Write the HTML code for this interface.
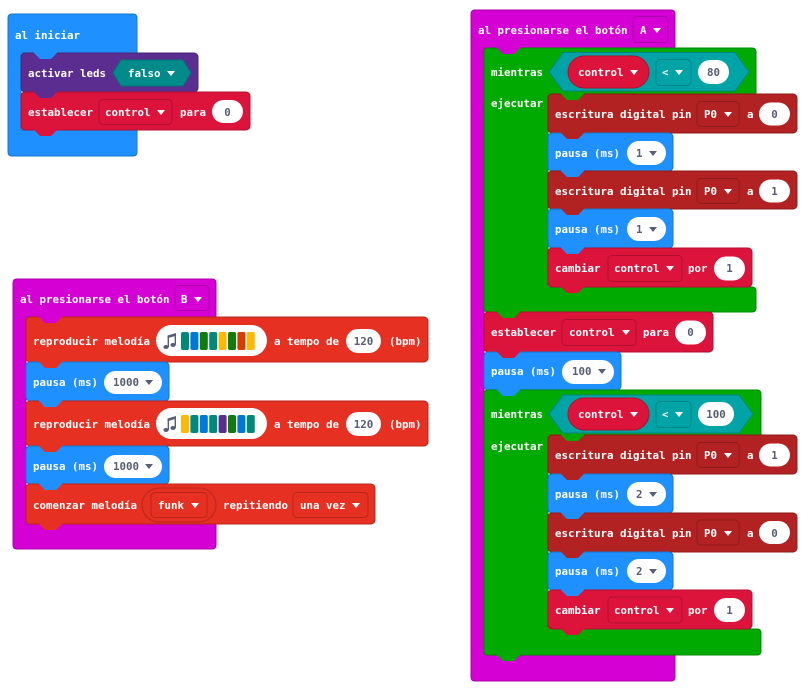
<!DOCTYPE html>
<html><head><meta charset="utf-8">
<style>
html,body{margin:0;padding:0;background:#fff;}
svg{display:block}
text{font-family:"DejaVu Sans Mono","Liberation Mono",monospace;font-size:10.8px;font-weight:bold;fill:#fff;}
text.d{fill:#575E75}
</style></head>
<body>
<svg width="812" height="690" viewBox="0 0 812 690" xmlns="http://www.w3.org/2000/svg">
<!-- ===== al iniciar ===== -->
<path d="M12,14 H133 Q137,14 137,18 V53 H21 V130 H137 V152 Q137,156 133,156 H12 Q8,156 8,152 V18 Q8,14 12,14 Z" fill="#1E90FF" stroke="#1874CD"/>
<rect x="21" y="53" width="177" height="39" rx="4" fill="#5C2D91" stroke="#4A2475"/>
<rect x="21" y="92" width="229" height="38" rx="4" fill="#DC143C" stroke="#B0102F"/>

<!-- ===== button B ===== -->
<path d="M17,279 H212 Q216,279 216,283 V317 H26 V524 H216 V545 Q216,549 212,549 H17 Q13,549 13,545 V283 Q13,279 17,279 Z" fill="#D400D4" stroke="#AA00AA"/>
<rect x="26" y="317" width="402" height="45" rx="4" fill="#E63022" stroke="#B8261B"/>
<rect x="26" y="362" width="143" height="39" rx="4" fill="#1E90FF" stroke="#1874CD"/>
<rect x="26" y="401" width="402" height="45" rx="4" fill="#E63022" stroke="#B8261B"/>
<rect x="26" y="446" width="143" height="38" rx="4" fill="#1E90FF" stroke="#1874CD"/>
<rect x="26" y="484" width="349" height="40" rx="4" fill="#E63022" stroke="#B8261B"/>

<!-- ===== button A ===== -->
<path d="M475,10 H671 Q675,10 675,14 V48 H484 V655 H675 V677 Q675,681 671,681 H475 Q471,681 471,677 V14 Q471,10 475,10 Z" fill="#D400D4" stroke="#AA00AA"/>
<path d="M488,48 H752 Q756,48 756,52 V94 H548 V287 H752 Q756,287 756,291 V308 Q756,312 752,312 H488 Q484,312 484,308 V52 Q484,48 488,48 Z" fill="#00AA00" stroke="#008800"/>
<rect x="548" y="94" width="249" height="39" rx="4" fill="#B22222" stroke="#8E1B1B"/>
<rect x="548" y="133" width="125" height="38" rx="4" fill="#1E90FF" stroke="#1874CD"/>
<rect x="548" y="171" width="249" height="38" rx="4" fill="#B22222" stroke="#8E1B1B"/>
<rect x="548" y="209" width="125" height="39" rx="4" fill="#1E90FF" stroke="#1874CD"/>
<rect x="548" y="248" width="204" height="39" rx="4" fill="#DC143C" stroke="#B0102F"/>
<rect x="484" y="312" width="229" height="40" rx="4" fill="#DC143C" stroke="#B0102F"/>
<rect x="484" y="352" width="137" height="38" rx="4" fill="#1E90FF" stroke="#1874CD"/>
<path d="M488,390 H757 Q761,390 761,394 V435 H548 V629 H757 Q761,629 761,633 V651 Q761,655 757,655 H488 Q484,655 484,651 V394 Q484,390 488,390 Z" fill="#00AA00" stroke="#008800"/>
<rect x="548" y="435" width="249" height="39" rx="4" fill="#B22222" stroke="#8E1B1B"/>
<rect x="548" y="474" width="125" height="39" rx="4" fill="#1E90FF" stroke="#1874CD"/>
<rect x="548" y="513" width="249" height="39" rx="4" fill="#B22222" stroke="#8E1B1B"/>
<rect x="548" y="552" width="125" height="38" rx="4" fill="#1E90FF" stroke="#1874CD"/>
<rect x="548" y="590" width="204" height="39" rx="4" fill="#DC143C" stroke="#B0102F"/>

<!-- ===== tabs ===== -->
<polygon points="34,51.5 34,53 40,59 51,59 57,53 57,51.5" fill="#1E90FF"/>
<polygon points="34,90.5 34,92 40,98 51,98 57,92 57,90.5" fill="#5C2D91"/>
<polygon points="34,128.5 34,130 40,136 51,136 57,130 57,128.5" fill="#DC143C"/>
<polygon points="39,315.5 39,317 45,323 56,323 62,317 62,315.5" fill="#D400D4"/>
<polygon points="39,360.5 39,362 45,368 56,368 62,362 62,360.5" fill="#E63022"/>
<polygon points="39,399.5 39,401 45,407 56,407 62,401 62,399.5" fill="#1E90FF"/>
<polygon points="39,444.5 39,446 45,452 56,452 62,446 62,444.5" fill="#E63022"/>
<polygon points="39,482.5 39,484 45,490 56,490 62,484 62,482.5" fill="#1E90FF"/>
<polygon points="39,522.5 39,524 45,530 56,530 62,524 62,522.5" fill="#E63022"/>
<polygon points="497,46.5 497,48 503,54 514,54 520,48 520,46.5" fill="#D400D4"/>
<polygon points="561,92.5 561,94 567,100 578,100 584,94 584,92.5" fill="#00AA00"/>
<polygon points="561,131.5 561,133 567,139 578,139 584,133 584,131.5" fill="#B22222"/>
<polygon points="561,169.5 561,171 567,177 578,177 584,171 584,169.5" fill="#1E90FF"/>
<polygon points="561,207.5 561,209 567,215 578,215 584,209 584,207.5" fill="#B22222"/>
<polygon points="561,246.5 561,248 567,254 578,254 584,248 584,246.5" fill="#1E90FF"/>
<polygon points="561,285.5 561,287 567,293 578,293 584,287 584,285.5" fill="#DC143C"/>
<polygon points="497,310.5 497,312 503,318 514,318 520,312 520,310.5" fill="#00AA00"/>
<polygon points="497,350.5 497,352 503,358 514,358 520,352 520,350.5" fill="#DC143C"/>
<polygon points="497,388.5 497,390 503,396 514,396 520,390 520,388.5" fill="#1E90FF"/>
<polygon points="561,433.5 561,435 567,441 578,441 584,435 584,433.5" fill="#00AA00"/>
<polygon points="561,472.5 561,474 567,480 578,480 584,474 584,472.5" fill="#B22222"/>
<polygon points="561,511.5 561,513 567,519 578,519 584,513 584,511.5" fill="#1E90FF"/>
<polygon points="561,550.5 561,552 567,558 578,558 584,552 584,550.5" fill="#B22222"/>
<polygon points="561,588.5 561,590 567,596 578,596 584,590 584,588.5" fill="#1E90FF"/>
<polygon points="561,627.5 561,629 567,635 578,635 584,629 584,627.5" fill="#DC143C"/>
<polygon points="497,653.5 497,655 503,661 514,661 520,655 520,653.5" fill="#00AA00"/>

<!-- ===== al iniciar fields ===== -->
<text x="15" y="39">al iniciar</text>
<text x="28" y="77">activar leds</text>
<polygon points="113,73 121,60 183,60 191,73 183,86 121,86" fill="#008A8A" stroke="#007272"/>
<text x="128" y="77">falso</text>
<polygon points="167,71 175,71 171,76" fill="#fff"/>
<text x="28" y="116">establecer</text>
<rect x="99" y="99.5" width="73" height="25" rx="4" fill="#DC143C" stroke="#B0102F"/>
<text x="105" y="116">control</text>
<polygon points="157,110 165,110 161,115" fill="#fff"/>
<text x="180" y="116">para</text>
<rect x="212" y="100" width="31" height="23" rx="11.5" fill="#fff"/>
<text class="d" x="227.5" y="116" text-anchor="middle">0</text>

<!-- ===== B fields ===== -->
<text x="20" y="303">al presionarse el botón</text>
<rect x="175" y="285.5" width="34" height="25" rx="4" fill="#D400D4" stroke="#AA00AA"/>
<text x="181" y="303">B</text>
<polygon points="194,297 202,297 198,302" fill="#fff"/>

<text x="33" y="345">reproducir melodía</text>
<rect x="156" y="325" width="111" height="31" rx="15.5" fill="#fff"/>
<g fill="#575E75">
<ellipse cx="166" cy="347" rx="2.6" ry="2"/><ellipse cx="173" cy="345" rx="2.6" ry="2"/>
<rect x="167.6" y="335.5" width="1.4" height="11.5"/><rect x="174.6" y="333.5" width="1.4" height="11.5"/>
<polygon points="167.6,335.5 176,333 176,335.8 167.6,338.3"/>
</g>
<rect x="181" y="332" width="8" height="18" rx="2" fill="#00897B"/>
<rect x="190.4" y="332" width="8" height="18" rx="2" fill="#0078D7"/>
<rect x="199.8" y="332" width="8" height="18" rx="2" fill="#107C10"/>
<rect x="209.2" y="332" width="8" height="18" rx="2" fill="#00897B"/>
<rect x="218.6" y="332" width="8" height="18" rx="2" fill="#FFB900"/>
<rect x="228" y="332" width="8" height="18" rx="2" fill="#107C10"/>
<rect x="237.4" y="332" width="8" height="18" rx="2" fill="#D83B01"/>
<rect x="246.8" y="332" width="8" height="18" rx="2" fill="#FFB900"/>
<text x="274" y="345">a tempo de</text>
<rect x="346" y="329" width="35" height="24" rx="12" fill="#fff"/>
<text class="d" x="363.5" y="345" text-anchor="middle">120</text>
<text x="389" y="345">(bpm)</text>

<text x="33" y="386">pausa (ms)</text>
<rect x="104" y="371" width="58" height="23" rx="11.5" fill="#fff"/>
<text class="d" x="113" y="386">1000</text>
<polygon points="145,380 153,380 149,385" fill="#575E75"/>

<text x="33" y="428">reproducir melodía</text>
<rect x="156" y="408" width="111" height="31" rx="15.5" fill="#fff"/>
<g fill="#575E75">
<ellipse cx="166" cy="430" rx="2.6" ry="2"/><ellipse cx="173" cy="428" rx="2.6" ry="2"/>
<rect x="167.6" y="418.5" width="1.4" height="11.5"/><rect x="174.6" y="416.5" width="1.4" height="11.5"/>
<polygon points="167.6,418.5 176,416 176,418.8 167.6,421.3"/>
</g>
<rect x="181" y="415" width="8" height="18" rx="2" fill="#FFB900"/>
<rect x="190.4" y="415" width="8" height="18" rx="2" fill="#00897B"/>
<rect x="199.8" y="415" width="8" height="18" rx="2" fill="#0078D7"/>
<rect x="209.2" y="415" width="8" height="18" rx="2" fill="#00897B"/>
<rect x="218.6" y="415" width="8" height="18" rx="2" fill="#5C2D91"/>
<rect x="228" y="415" width="8" height="18" rx="2" fill="#107C10"/>
<rect x="237.4" y="415" width="8" height="18" rx="2" fill="#0078D7"/>
<rect x="246.8" y="415" width="8" height="18" rx="2" fill="#00897B"/>
<text x="274" y="428">a tempo de</text>
<rect x="346" y="412" width="35" height="24" rx="12" fill="#fff"/>
<text class="d" x="363.5" y="428" text-anchor="middle">120</text>
<text x="389" y="428">(bpm)</text>

<text x="33" y="470">pausa (ms)</text>
<rect x="104" y="455" width="58" height="23" rx="11.5" fill="#fff"/>
<text class="d" x="113" y="470">1000</text>
<polygon points="145,464 153,464 149,469" fill="#575E75"/>

<text x="33" y="509">comenzar melodía</text>
<rect x="142" y="488" width="74" height="34" rx="17" fill="#E63022" stroke="#B8261B"/>
<rect x="151" y="492.5" width="56" height="25" rx="4" fill="#E63022" stroke="#B8261B"/>
<text x="158" y="509">funk</text>
<polygon points="191,503 199,503 195,508" fill="#fff"/>
<text x="223" y="509">repitiendo</text>
<rect x="293" y="492.5" width="75" height="25" rx="4" fill="#E63022" stroke="#B8261B"/>
<text x="300" y="509">una vez</text>
<polygon points="352,503 360,503 356,508" fill="#fff"/>

<!-- ===== A fields ===== -->
<text x="478" y="34">al presionarse el botón</text>
<rect x="633" y="16.5" width="35" height="26" rx="4" fill="#D400D4" stroke="#AA00AA"/>
<text x="640" y="34">A</text>
<polygon points="653,28 661,28 657,33" fill="#fff"/>

<text x="491" y="76">mientras</text>
<polygon points="549,72 563,52.5 735,52.5 749,72 735,91 563,91" fill="#00A4A6" stroke="#008385"/>
<rect x="568" y="56" width="81" height="32" rx="16" fill="#DC143C" stroke="#B0102F"/>
<text x="578" y="76">control</text>
<polygon points="630,70 638,70 634,75" fill="#fff"/>
<rect x="656" y="59.5" width="35" height="26" rx="4" fill="#00A4A6" stroke="#008385"/>
<text x="662" y="76">&lt;</text>
<polygon points="675,70 683,70 679,75" fill="#fff"/>
<rect x="698" y="60" width="31" height="24" rx="12" fill="#fff"/>
<text class="d" x="713.5" y="76" text-anchor="middle">80</text>
<text x="491" y="107">ejecutar</text>

<text x="555" y="118">escritura digital pin</text>
<rect x="697" y="101.5" width="42" height="25" rx="4" fill="#B22222" stroke="#8E1B1B"/>
<text x="704" y="118">P0</text>
<polygon points="724,112 732,112 728,117" fill="#fff"/>
<text x="747" y="118">a</text>
<rect x="759" y="102.5" width="31" height="23" rx="11.5" fill="#fff"/>
<text class="d" x="774.5" y="118" text-anchor="middle">0</text>

<text x="555" y="157">pausa (ms)</text>
<rect x="627" y="141" width="39" height="24" rx="12" fill="#fff"/>
<text class="d" x="636" y="157">1</text>
<polygon points="649,151 657,151 653,156" fill="#575E75"/>

<text x="555" y="195">escritura digital pin</text>
<rect x="697" y="178.5" width="42" height="25" rx="4" fill="#B22222" stroke="#8E1B1B"/>
<text x="704" y="195">P0</text>
<polygon points="724,189 732,189 728,194" fill="#fff"/>
<text x="747" y="195">a</text>
<rect x="759" y="179.5" width="31" height="23" rx="11.5" fill="#fff"/>
<text class="d" x="774.5" y="195" text-anchor="middle">1</text>

<text x="555" y="233">pausa (ms)</text>
<rect x="627" y="217" width="39" height="24" rx="12" fill="#fff"/>
<text class="d" x="636" y="233">1</text>
<polygon points="649,227 657,227 653,232" fill="#575E75"/>

<text x="555" y="272">cambiar</text>
<rect x="608" y="255.5" width="74" height="26" rx="4" fill="#DC143C" stroke="#B0102F"/>
<text x="614" y="272">control</text>
<polygon points="666,266 674,266 670,271" fill="#fff"/>
<text x="688" y="272">por</text>
<rect x="714" y="256.5" width="31" height="24" rx="12" fill="#fff"/>
<text class="d" x="729.5" y="272" text-anchor="middle">1</text>

<text x="491" y="336">establecer</text>
<rect x="562" y="319.5" width="74" height="26" rx="4" fill="#DC143C" stroke="#B0102F"/>
<text x="569" y="336">control</text>
<polygon points="622,330 630,330 626,335" fill="#fff"/>
<text x="643" y="336">para</text>
<rect x="675" y="320.5" width="31" height="24" rx="12" fill="#fff"/>
<text class="d" x="690.5" y="336" text-anchor="middle">0</text>

<text x="491" y="375">pausa (ms)</text>
<rect x="562" y="360" width="52" height="24" rx="12" fill="#fff"/>
<text class="d" x="572" y="375">100</text>
<polygon points="598,369 606,369 602,374" fill="#575E75"/>

<text x="491" y="418">mientras</text>
<polygon points="549,414 563,395 739,395 753,414 739,433 563,433" fill="#00A4A6" stroke="#008385"/>
<rect x="568" y="398" width="81" height="32" rx="16" fill="#DC143C" stroke="#B0102F"/>
<text x="578" y="418">control</text>
<polygon points="630,412 638,412 634,417" fill="#fff"/>
<rect x="656" y="401.5" width="35" height="26" rx="4" fill="#00A4A6" stroke="#008385"/>
<text x="662" y="418">&lt;</text>
<polygon points="675,412 683,412 679,417" fill="#fff"/>
<rect x="698" y="402" width="36" height="24" rx="12" fill="#fff"/>
<text class="d" x="716" y="418" text-anchor="middle">100</text>
<text x="491" y="450">ejecutar</text>

<text x="555" y="459">escritura digital pin</text>
<rect x="697" y="442.5" width="42" height="25" rx="4" fill="#B22222" stroke="#8E1B1B"/>
<text x="704" y="459">P0</text>
<polygon points="724,453 732,453 728,458" fill="#fff"/>
<text x="747" y="459">a</text>
<rect x="759" y="443.5" width="31" height="23" rx="11.5" fill="#fff"/>
<text class="d" x="774.5" y="459" text-anchor="middle">1</text>

<text x="555" y="498">pausa (ms)</text>
<rect x="627" y="482" width="39" height="24" rx="12" fill="#fff"/>
<text class="d" x="636" y="498">2</text>
<polygon points="649,492 657,492 653,497" fill="#575E75"/>

<text x="555" y="537">escritura digital pin</text>
<rect x="697" y="520" width="42" height="25" rx="4" fill="#B22222" stroke="#8E1B1B"/>
<text x="704" y="537">P0</text>
<polygon points="724,531 732,531 728,536" fill="#fff"/>
<text x="747" y="537">a</text>
<rect x="759" y="521" width="31" height="23" rx="11.5" fill="#fff"/>
<text class="d" x="774.5" y="537" text-anchor="middle">0</text>

<text x="555" y="575">pausa (ms)</text>
<rect x="627" y="559" width="39" height="24" rx="12" fill="#fff"/>
<text class="d" x="636" y="575">2</text>
<polygon points="649,569 657,569 653,574" fill="#575E75"/>

<text x="555" y="614">cambiar</text>
<rect x="608" y="597" width="74" height="26" rx="4" fill="#DC143C" stroke="#B0102F"/>
<text x="614" y="614">control</text>
<polygon points="666,608 674,608 670,613" fill="#fff"/>
<text x="688" y="614">por</text>
<rect x="714" y="598" width="31" height="24" rx="12" fill="#fff"/>
<text class="d" x="729.5" y="614" text-anchor="middle">1</text>
</svg>
</body></html>
